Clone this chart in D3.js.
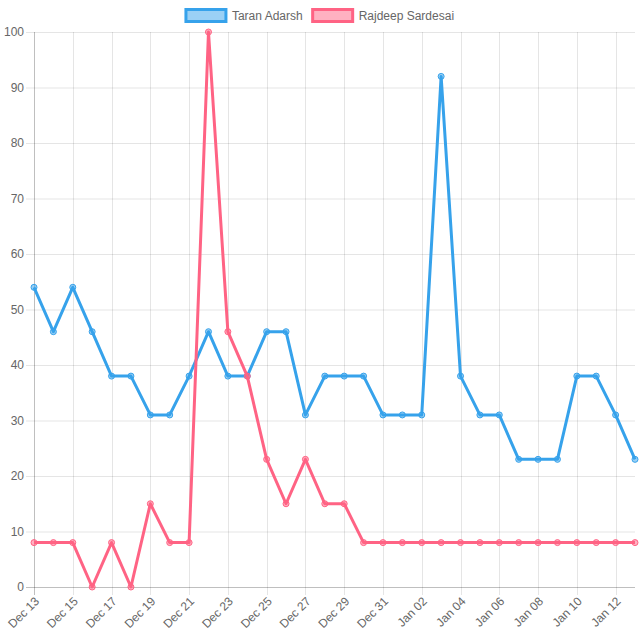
<!DOCTYPE html>
<html><head><meta charset="utf-8">
<script src="https://cdn.jsdelivr.net/npm/d3@7"></script>
<style>body{margin:0;background:#fff}svg{display:block;font-family:"Liberation Sans",Arial,Helvetica,sans-serif}</style>
</head><body><svg id="c" width="640" height="640"></svg>
<script>
const startDate = "2017-12-13";
const seriesNames = ["Taran Adarsh", "Rajdeep Sardesai"];
const taranValues = [54,46,54,46,38,38,31,31,38,46,38,38,46,46,31,38,38,38,31,31,31,92,38,31,31,23,23,23,38,38,31,23];
const rajdeepValues = [8,8,8,0,8,0,15,8,8,100,46,38,23,15,23,15,15,8,8,8,8,8,8,8,8,8,8,8,8,8,8,8];
const yTicks = [0,10,20,30,40,50,60,70,80,90,100];
const colors = ["rgb(54,162,235)", "rgb(255,99,132)"];
const fills = ["rgba(54,162,235,0.5)", "rgba(255,99,132,0.5)"];

const parse = d3.timeParse("%Y-%m-%d");
const d0 = parse(startDate);
const dates = taranValues.map((_, i) => d3.timeDay.offset(d0, i));
const series = [taranValues, rajdeepValues];

const svg = d3.select("#c");
const L = 34, R = 635, T = 32, B = 587;
const x = d3.scaleTime().domain([dates[0], dates[dates.length-1]]).range([L, R]);
const y = d3.scaleLinear().domain([0, 100]).range([B, T]);
const fmt = d3.timeFormat("%b %d");
const xTicks = dates.filter((d, i) => i % 2 === 0);

// horizontal grid
svg.append("g").selectAll("line").data(yTicks).join("line")
  .attr("x1", L - 8).attr("x2", R).attr("y1", d => y(d) + 0.5).attr("y2", d => y(d) + 0.5)
  .attr("stroke", d => d === 0 ? "rgba(0,0,0,0.25)" : "rgba(0,0,0,0.1)").attr("stroke-width", 1);
// vertical grid
svg.append("g").selectAll("line").data(xTicks).join("line")
  .attr("x1", d => Math.round(x(d)) + 0.5).attr("x2", d => Math.round(x(d)) + 0.5)
  .attr("y1", T).attr("y2", B + 8)
  .attr("stroke", (d, i) => i === 0 ? "rgba(0,0,0,0.25)" : "rgba(0,0,0,0.1)").attr("stroke-width", 1);

// y labels
svg.append("g").selectAll("text").data(yTicks).join("text")
  .attr("x", L - 10).attr("y", d => y(d)).attr("dy", "0.35em")
  .attr("text-anchor", "end").attr("font-size", 12).attr("fill", "#666").text(d => d);

// x labels
svg.append("g").selectAll("text").data(xTicks).join("text")
  .attr("transform", d => `translate(${x(d) + 3},${B + 12}) rotate(-45)`)
  .attr("text-anchor", "end").attr("dy", "0.35em")
  .attr("font-size", 12).attr("fill", "#666").text(d => fmt(d));

// lines
const line = d3.line().x((d, i) => x(dates[i])).y(d => y(d));
series.forEach((vals, s) => {
  svg.append("path").datum(vals).attr("d", line)
    .attr("fill", "none").attr("stroke", colors[s]).attr("stroke-width", 3)
    .attr("stroke-linejoin", "round");
  svg.append("g").selectAll("circle").data(vals).join("circle")
    .attr("cx", (d, i) => x(dates[i])).attr("cy", d => y(d)).attr("r", 3)
    .attr("fill", fills[s]).attr("stroke", colors[s]).attr("stroke-width", 1);
});

// legend (centered, Chart.js-like)
const lg = svg.append("g");
const items = seriesNames.map((n, s) => {
  const g = lg.append("g");
  g.append("rect").attr("x", 0).attr("y", 9.5).attr("width", 40).attr("height", 12)
    .attr("fill", fills[s]).attr("stroke", colors[s]).attr("stroke-width", 3);
  const t = g.append("text").attr("x", 46).attr("y", 15.5).attr("dy", "0.35em")
    .attr("font-size", 12).attr("fill", "#666").text(n);
  return {g, w: 46 + t.node().getComputedTextLength()};
});
const total = d3.sum(items, d => d.w) + 10 * (items.length - 1);
let cx = 320 - total / 2;
items.forEach(it => { it.g.attr("transform", `translate(${cx},0)`); cx += it.w + 10; });
</script></body></html>
